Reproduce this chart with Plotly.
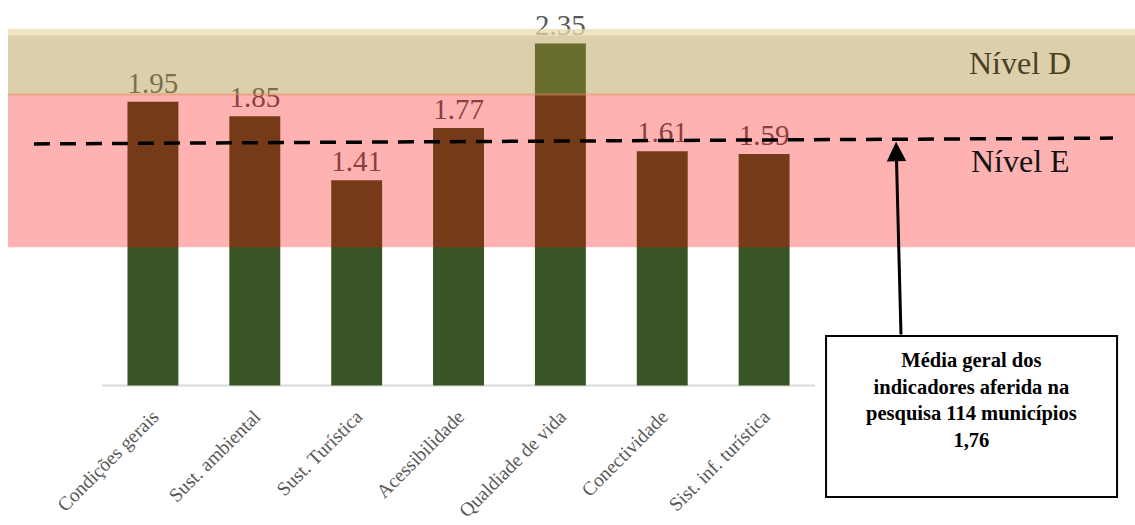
import plotly.graph_objects as go

# ---------------- data ----------------
categorias = ["Condições gerais", "Sust. ambiental", "Sust. Turística", "Acessibilidade",
              "Qualdiade de vida", "Conectividade", "Sist. inf. turística"]
valores = [1.95, 1.85, 1.41, 1.77, 2.35, 1.61, 1.59]
rotulos = [f"{v:.2f}" for v in valores]

nivel_e = [0.95, 2.0]      # faixa Nível E (valores)
nivel_d = [2.0, 2.45]      # faixa Nível D (valores)
media_linha = [1.66, 1.70]  # linha tracejada (esq., dir.) como desenhada
media_texto = "Média geral dos<br>indicadores aferida na<br>pesquisa 114 municípios<br>1,76"

# ---------------- layout constants ----------------
W, H = 1135, 525
X_RANGE = [-1.5014, 9.641]
Y_RANGE = [-0.959, 2.649]
SERIF = "Liberation Serif, Times New Roman, serif"

fig = go.Figure()
fig.add_trace(go.Bar(
    x=categorias, y=valores, text=rotulos,
    textposition="outside", textangle=0, constraintext="none", cliponaxis=False,
    textfont=dict(family=SERIF, size=29, color="#595959"),
    marker=dict(color="#3A5525", line=dict(width=0)),
    width=0.5, hoverinfo="skip",
))

shapes = []
# axis line
shapes.append(dict(type="line", xref="x", yref="y", x0=-0.5, x1=6.5, y0=0, y1=0,
                   line=dict(color="#D9D9D9", width=2), layer="below"))
# Nível E band
shapes.append(dict(type="rect", xref="x", yref="y", x0=-1.423, x1=9.7,
                   y0=nivel_e[0], y1=nivel_e[1], fillcolor="rgba(255,0,0,0.30)",
                   line=dict(width=0), layer="above"))
# Nível D band
shapes.append(dict(type="rect", xref="x", yref="y", x0=-1.423, x1=9.7,
                   y0=nivel_d[0], y1=nivel_d[1], fillcolor="rgba(172,143,57,0.42)",
                   line=dict(width=0), layer="above"))
# light top strip of Nível D band
shapes.append(dict(type="rect", xref="x", yref="y", x0=-1.423, x1=9.7,
                   y0=nivel_d[1] - 0.045, y1=nivel_d[1], fillcolor="rgba(255,245,215,0.55)",
                   line=dict(width=0), layer="above"))
# boundary line
shapes.append(dict(type="line", xref="x", yref="y", x0=-1.423, x1=9.7,
                   y0=nivel_d[0], y1=nivel_d[0],
                   line=dict(color="rgba(225,140,95,0.55)", width=2), layer="above"))
# dashed average line
shapes.append(dict(type="line", xref="x", yref="y", x0=-1.168, x1=9.425,
                   y0=media_linha[0], y1=media_linha[1],
                   line=dict(color="black", width=3.5, dash="16px,10px"), layer="above"))
# text box
shapes.append(dict(type="rect", xref="x", yref="y", x0=6.608, x1=9.465, y0=0.340, y1=-0.766,
                   fillcolor="white", line=dict(color="black", width=2), layer="above"))

annotations = [
    dict(x=8.512, y=2.216, xref="x", yref="y", text="Nível D", showarrow=False,
         font=dict(family=SERIF, size=32, color="#4B4022"), xanchor="center", yanchor="middle"),
    dict(x=8.512, y=1.543, xref="x", yref="y", text="Nível E", showarrow=False,
         font=dict(family=SERIF, size=32, color="#111111"), xanchor="center", yanchor="middle"),
    dict(x=8.036, y=-0.103, xref="x", yref="y", text="<b>" + media_texto + "</b>", showarrow=False,
         font=dict(family=SERIF, size=20.5, color="black"), xanchor="center", yanchor="middle",
         align="center"),
    dict(x=7.295, y=1.675, xref="x", yref="y", ax=7.344, ay=0.340, axref="x", ayref="y",
         text="", showarrow=True, arrowhead=2, arrowsize=1.3, arrowwidth=3, arrowcolor="black"),
]

fig.update_layout(
    width=W, height=H,
    margin=dict(l=0, r=0, t=0, b=0, autoexpand=False),
    paper_bgcolor="white", plot_bgcolor="white",
    showlegend=False,
    bargap=0.5,
    shapes=shapes, annotations=annotations,
    xaxis=dict(type="category", range=X_RANGE, anchor="free", position=(0 - Y_RANGE[0]) / (Y_RANGE[1] - Y_RANGE[0]),
               automargin=False,
               showline=False, showgrid=False, zeroline=False, ticks="",
               tickangle=-45, ticklabelstandoff=15,
               tickfont=dict(family=SERIF, size=19.5, color="#595959")),
    yaxis=dict(range=Y_RANGE, visible=False, showgrid=False, zeroline=False, automargin=False),
)

fig.write_html("out.html")
